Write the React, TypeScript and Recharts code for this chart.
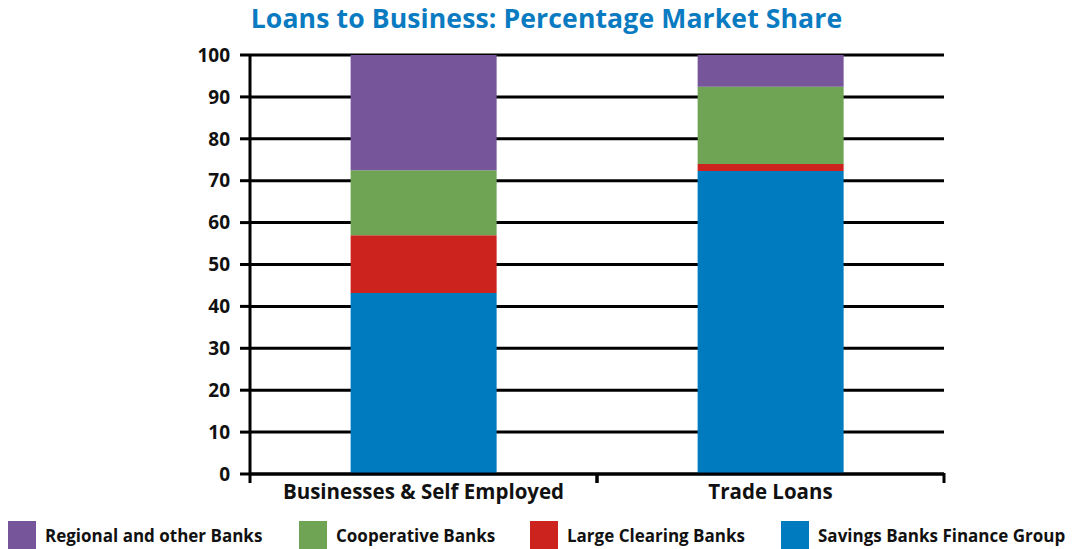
import React from 'react';
import { BarChart, Bar, XAxis, YAxis, CartesianGrid } from 'recharts';

const categories = ['Businesses & Self Employed', 'Trade Loans'];
const savingsBanks = [43.2, 72.3];
const largeClearing = [13.8, 1.7];
const cooperative = [15.5, 18.4];
const regional = [27.5, 7.6];
const yTicks = [0, 10, 20, 30, 40, 50, 60, 70, 80, 90, 100];

const series = [
  { key: 'savings', name: 'Savings Banks Finance Group', color: '#007bc0', values: savingsBanks },
  { key: 'clearing', name: 'Large Clearing Banks', color: '#cc231f', values: largeClearing },
  { key: 'coop', name: 'Cooperative Banks', color: '#70a455', values: cooperative },
  { key: 'regional', name: 'Regional and other Banks', color: '#77559a', values: regional },
];

const data = categories.map((name, i) => {
  const row: any = { name };
  series.forEach((s) => (row[s.key] = s.values[i]));
  return row;
});

const legendOrder = [...series].reverse();
const legendX = [8, 299, 530, 781];

const font = '"Open Sans", "DejaVu Sans", sans-serif';

// category label plus tick marks on the band edges
const CategoryTick = (props: any) => {
  const { x, y, payload } = props;
  const half = payload && payload.offset ? payload.offset : 173.5;
  return (
    <g>
      <line x1={x - half} x2={x - half} y1={y - 1} y2={y + 9} stroke="#000" strokeWidth={3} />
      <line x1={x + half} x2={x + half} y1={y - 1} y2={y + 9} stroke="#000" strokeWidth={3} />
      <text
        x={x}
        y={y + 25}
        textAnchor="middle"
        fill="#111"
        fontSize={20.5}
        fontWeight={700}
        fontFamily={font}
      >
        {payload.value}
      </text>
    </g>
  );
};

const App: React.FC = () => {
  return (
    <div style={{ position: 'absolute', left: 0, top: 0, width: 1077, height: 549, background: '#fff', fontFamily: font }}>
      <div
        style={{
          position: 'absolute',
          top: 0,
          left: 0,
          width: 1093,
          textAlign: 'center',
          color: '#0a7bc1',
          fontWeight: 700,
          fontSize: 26.6,
          letterSpacing: 0.1,
        }}
      >
        Loans to Business: Percentage Market Share
      </div>
      <BarChart
        width={1077}
        height={549}
        data={data}
        margin={{ top: 55, right: 133, bottom: 35, left: 190 }}
        barCategoryGap="29%"
      >
        <CartesianGrid vertical={false} stroke="#000" strokeWidth={3} yAxisId="left" xAxisId="cat" />
        <XAxis
          xAxisId="cat"
          dataKey="name"
          tickLine={false}
          tickSize={0}
          tickMargin={0}
          axisLine={{ stroke: '#000', strokeWidth: 3 }}
          tick={<CategoryTick />}
          height={40}
        />
        <YAxis
          yAxisId="left"
          domain={[0, 100]}
          ticks={yTicks}
          width={60}
          tickSize={10}
          tickLine={{ stroke: '#000', strokeWidth: 3 }}
          axisLine={{ stroke: '#000', strokeWidth: 3 }}
          tick={{ fill: '#111', fontSize: 19, fontWeight: 700, fontFamily: font }}
          dx={-8}
          interval={0}
        />
        <YAxis
          yAxisId="right"
          orientation="right"
          domain={[0, 100]}
          tick={false}
          tickLine={false}
          width={0}
          axisLine={{ stroke: '#000', strokeWidth: 3 }}
        />
        {series.map((s) => (
          <Bar
            key={s.key}
            dataKey={s.key}
            name={s.name}
            stackId="a"
            fill={s.color}
            xAxisId="cat"
            yAxisId="left"
            isAnimationActive={false}
          />
        ))}
      </BarChart>
      {legendOrder.map((s, i) => (
        <div
          key={s.key}
          style={{ position: 'absolute', left: legendX[i], top: 521, display: 'flex', alignItems: 'center', height: 28 }}
        >
          <div style={{ width: 28, height: 28, background: s.color }} />
          <span style={{ marginLeft: 9, fontSize: 17, fontWeight: 700, color: '#111', letterSpacing: 0 }}>{s.name}</span>
        </div>
      ))}
    </div>
  );
};

export default App;
